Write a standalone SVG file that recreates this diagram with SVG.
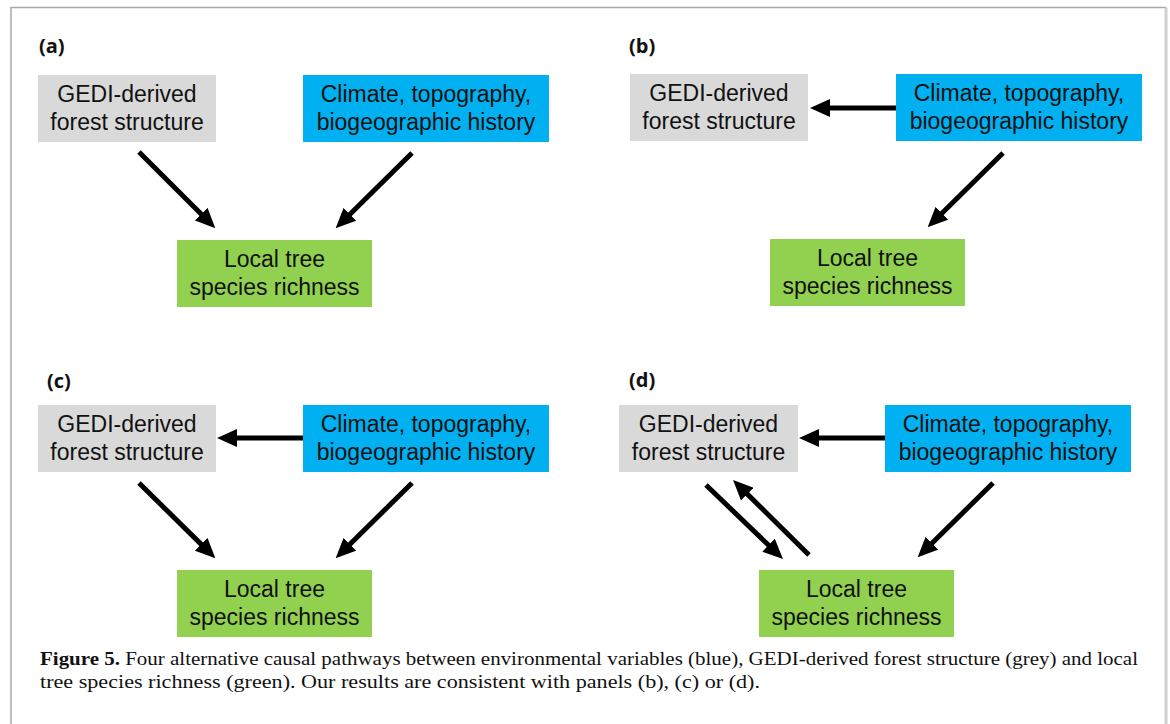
<svg xmlns="http://www.w3.org/2000/svg" width="1170" height="724" viewBox="0 0 1170 724">
<style>
.grey{fill:#d9d9d9}
.blue{fill:#00b0f0}
.green{fill:#92d050}
.t{font-family:"Liberation Sans",Arial,sans-serif;font-size:23px;fill:#111;text-anchor:middle}
.lab{font-family:"Open Sans","Liberation Sans",sans-serif;font-weight:bold;font-size:20px;fill:#111}
.cap{font-family:"Liberation Serif","Times New Roman",serif;font-size:19px;fill:#111}
.arr{stroke:#000;stroke-width:5;fill:none;marker-end:url(#ah)}
</style>
<defs>
<marker id="ah" markerUnits="userSpaceOnUse" viewBox="0 0 20 18" refX="7" refY="9" markerWidth="20" markerHeight="18" orient="auto">
<path d="M0,0 L20,9 L0,18 Z" fill="#000"/>
</marker>
</defs>
<rect width="1170" height="724" fill="#fff"/>
<path d="M11,730 V7.5 H1166" fill="none" stroke="#a8a8a8" stroke-width="1.5"/>
<path d="M1166,7.5 V730" fill="none" stroke="#cfcfcf" stroke-width="3"/>

<!-- Panel a -->
<text class="lab" x="39" y="53">(a)</text>
<g id="a-grey"><rect class="grey" x="38" y="75" width="178" height="67"/><text class="t" x="127" y="102">GEDI-derived</text><text class="t" x="127" y="130">forest structure</text></g>
<g id="a-blue"><rect class="blue" x="303" y="75" width="246" height="67"/><text class="t" x="426" y="102">Climate, topography,</text><text class="t" x="426" y="130">biogeographic history</text></g>
<g id="a-green"><rect class="green" x="177" y="240" width="195" height="67"/><text class="t" x="274.5" y="267">Local tree</text><text class="t" x="274.5" y="295">species richness</text></g>

<!-- Panel b -->
<text class="lab" x="629" y="53">(b)</text>
<g id="b-grey"><rect class="grey" x="630" y="74" width="178" height="67"/><text class="t" x="719" y="101">GEDI-derived</text><text class="t" x="719" y="129">forest structure</text></g>
<g id="b-blue"><rect class="blue" x="896" y="74" width="246" height="67"/><text class="t" x="1019" y="101">Climate, topography,</text><text class="t" x="1019" y="129">biogeographic history</text></g>
<g id="b-green"><rect class="green" x="770" y="239" width="195" height="67"/><text class="t" x="867.5" y="266">Local tree</text><text class="t" x="867.5" y="294">species richness</text></g>

<!-- Panel c -->
<text class="lab" x="47" y="388">(c)</text>
<g id="c-grey"><rect class="grey" x="38" y="405" width="178" height="67"/><text class="t" x="127" y="432">GEDI-derived</text><text class="t" x="127" y="460">forest structure</text></g>
<g id="c-blue"><rect class="blue" x="303" y="405" width="246" height="67"/><text class="t" x="426" y="432">Climate, topography,</text><text class="t" x="426" y="460">biogeographic history</text></g>
<g id="c-green"><rect class="green" x="177" y="570" width="195" height="67"/><text class="t" x="274.5" y="597">Local tree</text><text class="t" x="274.5" y="625">species richness</text></g>

<!-- Panel d -->
<text class="lab" x="629" y="387">(d)</text>
<g id="d-grey"><rect class="grey" x="619" y="405" width="179" height="67"/><text class="t" x="708.5" y="432">GEDI-derived</text><text class="t" x="708.5" y="460">forest structure</text></g>
<g id="d-blue"><rect class="blue" x="885" y="405" width="246" height="67"/><text class="t" x="1008" y="432">Climate, topography,</text><text class="t" x="1008" y="460">biogeographic history</text></g>
<g id="d-green"><rect class="green" x="759" y="570" width="195" height="67"/><text class="t" x="856.5" y="597">Local tree</text><text class="t" x="856.5" y="625">species richness</text></g>

<g id="connectors">
<line class="arr" x1="139" y1="152" x2="206.1" y2="219.1"/>
<line class="arr" x1="412" y1="153" x2="344.9" y2="219.2"/>
<line class="arr" x1="896" y1="108" x2="823" y2="108"/>
<line class="arr" x1="1003" y1="153" x2="936.9" y2="218.2"/>
<line class="arr" x1="303" y1="438" x2="230" y2="438"/>
<line class="arr" x1="139" y1="483" x2="206.1" y2="549.1"/>
<line class="arr" x1="412" y1="483" x2="344.9" y2="549.2"/>
<line class="arr" x1="885" y1="438" x2="812" y2="438"/>
<line class="arr" x1="706" y1="485" x2="773.6" y2="550"/>
<line class="arr" x1="809" y1="555" x2="742.3" y2="489.1"/>
<line class="arr" x1="993" y1="483" x2="926.9" y2="548.2"/>
</g>

<text class="cap" x="40" y="665" textLength="1098" lengthAdjust="spacingAndGlyphs"><tspan font-weight="bold">Figure 5.</tspan> Four alternative causal pathways between environmental variables (blue), GEDI-derived forest structure (grey) and local</text>
<text class="cap" x="40" y="688" textLength="720" lengthAdjust="spacingAndGlyphs">tree species richness (green). Our results are consistent with panels (b), (c) or (d).</text>
</svg>
